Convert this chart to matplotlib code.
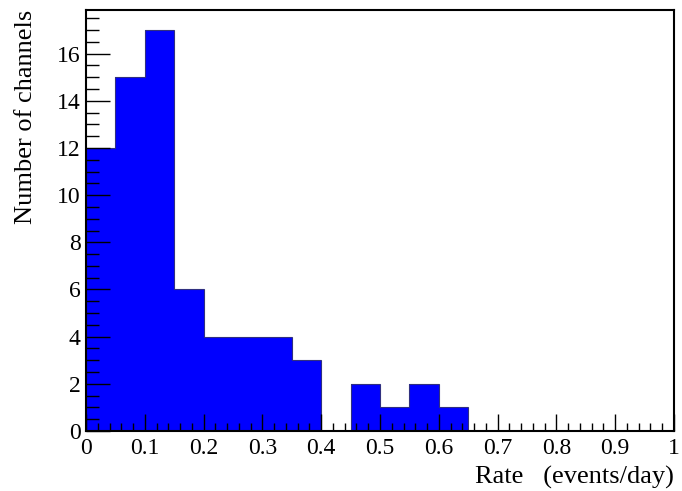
import numpy as np
from matplotlib import pyplot as plt
from matplotlib import ticker as tkr

# histogram contents, 20 bins of 0.05 from 0 to 1
bin_edges = [round(0.05 * i, 2) for i in range(21)]
counts = [12, 15, 17, 6, 4, 4, 4, 3, 0, 2, 1, 2, 1, 0, 0, 0, 0, 0, 0, 0]
x_label = 'Rate   (events/day)'
y_label = 'Number of channels'

plt.rcParams['font.family'] = ['Liberation Serif', 'DejaVu Serif']

fig = plt.figure(figsize=(6.82, 4.91), dpi=100)
ax = fig.add_axes([86/682, 60/491, 588/682, 421/491])

ax.stairs(counts, bin_edges, fill=True, color='#0000ff', linewidth=0)
ax.stairs(counts, bin_edges, fill=False, color='#303080', linewidth=0.8)

ax.set_xlim(0, 1)
ax.set_ylim(0, max(counts) * 1.05)

ax.xaxis.set_major_locator(tkr.MultipleLocator(0.1))
ax.xaxis.set_minor_locator(tkr.MultipleLocator(0.02))
ax.yaxis.set_major_locator(tkr.MultipleLocator(2))
ax.yaxis.set_minor_locator(tkr.MultipleLocator(0.5))
ax.xaxis.set_major_formatter(tkr.FuncFormatter(lambda v, p: '%g' % round(v, 2)))

ax.tick_params(which='both', direction='in', top=False, right=False, color='black', width=1, labelsize=17)
ax.tick_params(axis='x', which='major', length=12, pad=5)
ax.tick_params(axis='x', which='minor', length=6)
ax.tick_params(axis='y', which='major', length=17, pad=4)
ax.tick_params(axis='y', which='minor', length=9)
for s in ax.spines.values():
    s.set_linewidth(1.5)

ax.set_xlabel(x_label, fontsize=19, loc='right', labelpad=5)
ax.set_ylabel(y_label, fontsize=19, loc='top', labelpad=14)

fig.savefig('out.png', dpi=100)
